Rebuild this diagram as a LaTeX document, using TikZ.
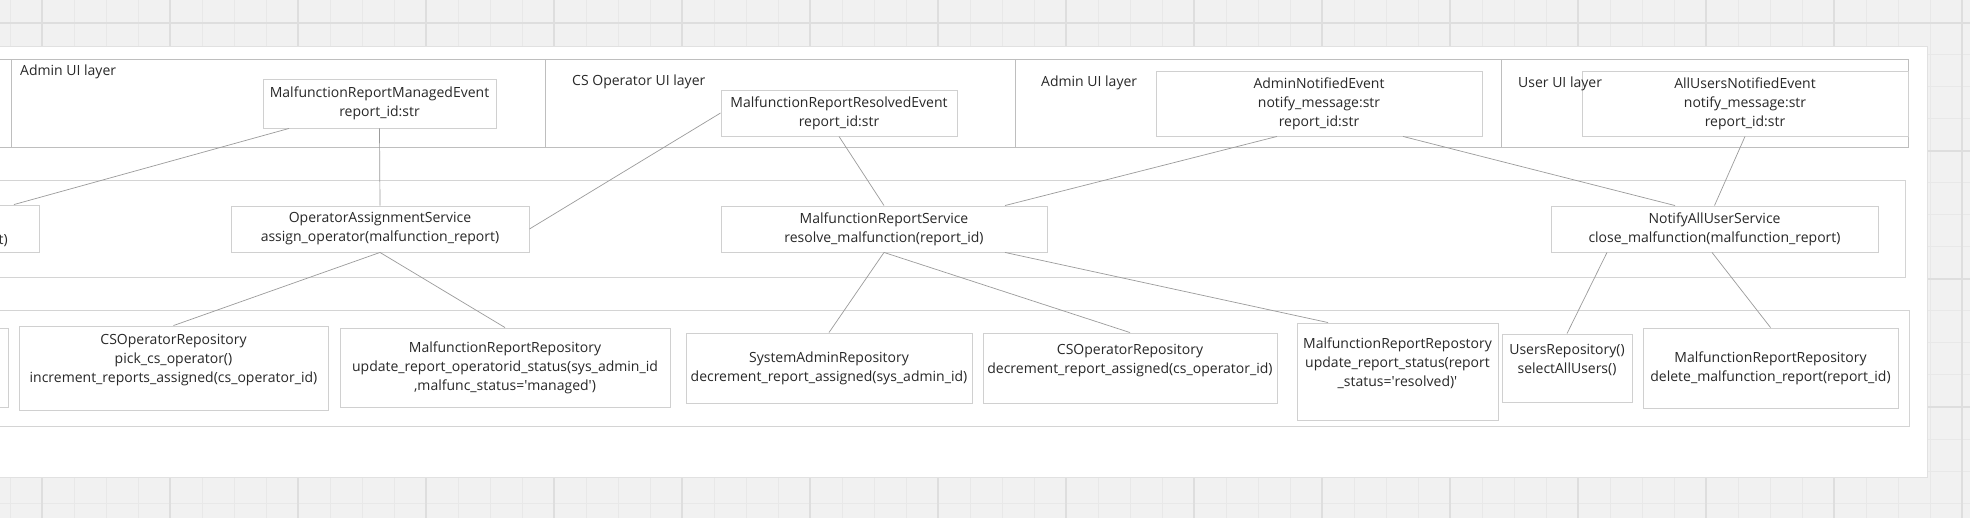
\documentclass[tikz,border=0pt]{standalone}
\usepackage{fontspec}
\setmainfont{Open Sans}
\usepackage{tikz}
\definecolor{bggray}{RGB}{241,241,241}
\definecolor{gridminor}{RGB}{232,232,232}
\definecolor{gridmajor}{RGB}{222,222,222}
\definecolor{panelline}{RGB}{225,225,225}
\definecolor{boxline}{RGB}{208,208,208}
\definecolor{layerline}{RGB}{212,212,212}
\definecolor{frameline}{RGB}{190,190,190}
\definecolor{wireline}{RGB}{155,155,155}
\definecolor{ink}{RGB}{40,40,40}

\begin{document}
\begin{tikzpicture}[x=1pt,y=-1pt,
        box/.style={draw=boxline,line width=0.9pt,fill=white,align=center,inner sep=0pt,text=ink,font=\fontsize{14}{19}\selectfont},
        layer/.style={draw=layerline,line width=1pt,inner sep=0pt,anchor=north west},
        uiframe/.style={draw=frameline,line width=0.9pt,inner sep=0pt,minimum height=88pt,anchor=north west},
        tag/.style={anchor=base west,inner sep=0pt,text=ink,font=\fontsize{14}{19}\selectfont},
        wire/.style={draw=wireline,line width=0.7pt}]
        \useasboundingbox (0,0) rectangle (1970,518);
        \clip (0,0) rectangle (1970,518);
        \fill[bggray] (0,0) rectangle (1970,518);
        \foreach \x in {10,42,...,1970} \draw[gridminor,line width=1pt] (\x,0) -- (\x,518);
        \foreach \y in {23,55,...,518} \draw[gridminor,line width=1pt] (0,\y) -- (1970,\y);
        \foreach \x in {42,170,...,1970} \draw[gridmajor,line width=1.2pt] (\x,0) -- (\x,518);
        \foreach \y in {23,151,...,518} \draw[gridmajor,line width=1.2pt] (0,\y) -- (1970,\y);
        \node[draw=panelline,fill=white,inner sep=0pt,minimum width=1940pt,minimum height=431pt,anchor=north west] (board) at (-13,46) {};

        \node[layer,minimum width=1955pt,minimum height=97pt] (svcLayer) at (-50,180) {};
        \node[layer,minimum width=1959pt,minimum height=116pt] (repoLayer) at (-50,310) {};
        \node[uiframe,minimum width=61pt] (uiLeft) at (-50,59) {};
        \node[uiframe,minimum width=534pt] (uiAdmin) at (11,59) {};
        \node[uiframe,minimum width=470pt] (uiOperator) at (545,59) {};
        \node[uiframe,minimum width=486pt] (uiAdminNotify) at (1015,59) {};
        \node[uiframe,minimum width=407pt] (uiUser) at (1501,59) {};

        \node[box,minimum width=233pt,minimum height=49pt] (evManaged) at (379.5,103.5) {MalfunctionReportManagedEvent\\report\_id:str};
        \node[box,minimum width=236pt,minimum height=46pt] (evResolved) at (839,113) {MalfunctionReportResolvedEvent\\report\_id:str};
        \node[box,minimum width=326pt,minimum height=65pt] (evAdmin) at (1319,103.5) {AdminNotifiedEvent\\notify\_message:str\\report\_id:str};
        \node[box,minimum width=326pt,minimum height=65pt] (evAllUsers) at (1745,103.5) {AllUsersNotifiedEvent\\notify\_message:str\\report\_id:str};

        \node[tag] (tagAdmin) at (20,75.5) {Admin UI layer};
        \node[tag] (tagOperator) at (572,86) {CS Operator UI layer};
        \node[tag] (tagAdminNotify) at (1041,87) {Admin UI layer};
        \node[tag] (tagUser) at (1518,88) {User UI layer};

        \node[box,minimum width=50pt,minimum height=47pt] (svcLeft) at (14,228.5) {};
        \node[anchor=base east,inner sep=0pt,text=ink,font=\fontsize{14}{19}\selectfont] (svcLeftTxt) at (8,244.5) {t)};
        \node[box,minimum width=298pt,minimum height=46pt] (svcOperator) at (380,229) {OperatorAssignmentService\\assign\_operator(malfunction\_report)};
        \node[box,minimum width=326pt,minimum height=46pt] (svcReport) at (884,229) {MalfunctionReportService\\resolve\_malfunction(report\_id)};
        \node[box,minimum width=327pt,minimum height=46pt] (svcNotify) at (1714.5,229) {NotifyAllUserService\\close\_malfunction(malfunction\_report)};

        \node[box,minimum width=50pt,minimum height=79pt] (repoLeft) at (-17,367.5) {};
        \node[box,minimum width=309pt,minimum height=84pt] (repoOperatorPick) at (173.5,368) {CSOperatorRepository\\pick\_cs\_operator()\\increment\_reports\_assigned(cs\_operator\_id)\\ \mbox{}};
        \node[box,minimum width=330pt,minimum height=79pt] (repoReportManaged) at (505,367.5) {MalfunctionReportRepository\\update\_report\_operatorid\_status(sys\_admin\_id\\,malfunc\_status=\textquotesingle managed\textquotesingle)};
        \node[box,minimum width=286pt,minimum height=70pt] (repoAdmin) at (829,368) {SystemAdminRepository\\decrement\_report\_assigned(sys\_admin\_id)};
        \node[box,minimum width=294pt,minimum height=70pt] (repoOperatorDec) at (1130,368) {CSOperatorRepository\\decrement\_report\_assigned(cs\_operator\_id)\\ \mbox{}};
        \node[box,minimum width=201pt,minimum height=97pt] (repoReportStatus) at (1397.5,371.5) {MalfunctionReportRepostory\\update\_report\_status(report\\\_status=\textquotesingle resolved)\textquotesingle\\ \mbox{}};
        \node[box,minimum width=130pt,minimum height=68pt] (repoUsers) at (1567,368) {UsersRepository()\\selectAllUsers()\\ \mbox{}};
        \node[box,minimum width=255pt,minimum height=80pt] (repoReportDelete) at (1770.5,368) {MalfunctionReportRepository\\delete\_malfunction\_report(report\_id)};

        \draw[wire] ([xshift=-90.5pt]evManaged.south) -- (svcLeft.north);
        \draw[wire] (evManaged.south) -- (svcOperator.north);
        \draw[wire] (evResolved.west) -- (svcOperator.east);
        \draw[wire] (evResolved.south) -- (svcReport.north);
        \draw[wire] ([xshift=-42pt]evAdmin.south) -- ([xshift=121pt]svcReport.north);
        \draw[wire] ([xshift=84pt]evAdmin.south) -- ([xshift=-39.5pt]svcNotify.north);
        \draw[wire] (evAllUsers.south) -- (svcNotify.north);
        \draw[wire] (svcOperator.south) -- (repoOperatorPick.north);
        \draw[wire] (svcOperator.south) -- (repoReportManaged.north);
        \draw[wire] (svcReport.south) -- (repoAdmin.north);
        \draw[wire] (svcReport.south) -- (repoOperatorDec.north);
        \draw[wire] ([xshift=121pt]svcReport.south) -- ([xshift=-69.5pt]repoReportStatus.north);
        \draw[wire] ([xshift=-107.5pt]svcNotify.south) -- (repoUsers.north);
        \draw[wire] ([xshift=-2.5pt]svcNotify.south) -- (repoReportDelete.north);
\end{tikzpicture}
\end{document}
